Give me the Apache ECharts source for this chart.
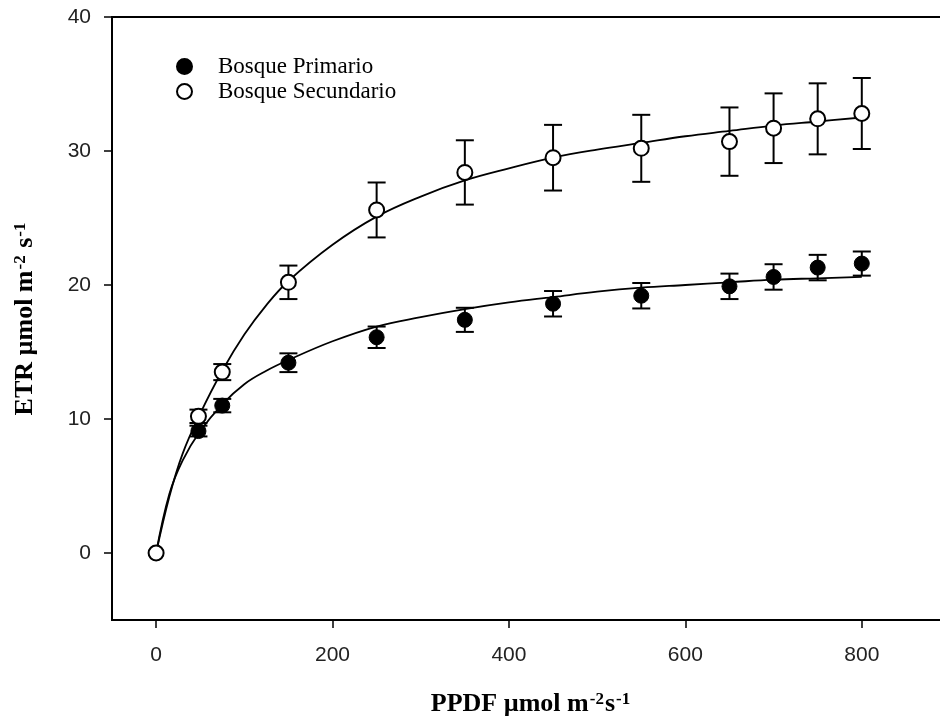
<!DOCTYPE html>
<html>
<head>
<meta charset="utf-8">
<script src="https://cdn.jsdelivr.net/npm/echarts@6/dist/echarts.min.js"></script>
<style>
html,body{margin:0;padding:0;background:#fff;}
#chart{width:940px;height:723px;}
</style>
</head>
<body>
<div id="chart"></div>
<script>
// Measured points: [PPFD, ETR, error]
var primarioX   = [0, 48, 75, 150, 250, 350, 450, 550, 650, 700, 750, 800];
var primarioY   = [0, 9.1, 11.0, 14.2, 16.1, 17.4, 18.6, 19.2, 19.9, 20.6, 21.3, 21.6];
var primarioErr = [0, 0.4, 0.5, 0.7, 0.8, 0.9, 0.95, 0.95, 0.95, 0.95, 0.95, 0.9];

var secundarioX   = [0, 48, 75, 150, 250, 350, 450, 550, 650, 700, 750, 800];
var secundarioY   = [0, 10.2, 13.5, 20.2, 25.6, 28.4, 29.5, 30.2, 30.7, 31.7, 32.4, 32.8];
var secundarioErr = [0, 0.5, 0.6, 1.25, 2.05, 2.4, 2.45, 2.5, 2.55, 2.6, 2.65, 2.65];

// Fitted curves
var curveX           = [0, 15, 30, 50, 75, 100, 125, 150, 200, 250, 300, 350, 400, 450, 500, 550, 600, 650, 700, 750, 800];
var curvePrimario    = [0, 4.4, 6.9, 9.1, 11.1, 12.6, 13.6, 14.4, 15.8, 16.9, 17.6, 18.2, 18.7, 19.1, 19.5, 19.8, 20.0, 20.2, 20.4, 20.5, 20.6];
var curveSecundario  = [0, 4.2, 7.4, 10.4, 13.6, 16.3, 18.5, 20.3, 23.0, 25.1, 26.6, 27.8, 28.7, 29.5, 30.1, 30.6, 31.1, 31.5, 31.9, 32.2, 32.5];

var xTicks = [0, 200, 400, 600, 800];
var yTicks = [0, 10, 20, 30, 40];

var serifFont = '"Liberation Serif", "Times New Roman", serif';
var sansFont = '"Liberation Sans", Arial, sans-serif';

function zip(xs, ys) { return xs.map(function (x, i) { return [x, ys[i]]; }); }
function zip3(xs, ys, es) { return xs.map(function (x, i) { return [x, ys[i] - es[i], ys[i] + es[i]]; }); }

function errorRender(params, api) {
  var x = api.value(0);
  var lo = api.coord([x, api.value(1)]);
  var hi = api.coord([x, api.value(2)]);
  var cap = 9;
  var style = { stroke: '#000', lineWidth: 2, fill: null };
  if (Math.abs(hi[1] - lo[1]) < 0.5) return null;
  return {
    type: 'group',
    children: [
      { type: 'line', shape: { x1: lo[0], y1: lo[1], x2: hi[0], y2: hi[1] }, style: style },
      { type: 'line', shape: { x1: lo[0] - cap, y1: lo[1], x2: lo[0] + cap, y2: lo[1] }, style: style },
      { type: 'line', shape: { x1: hi[0] - cap, y1: hi[1], x2: hi[0] + cap, y2: hi[1] }, style: style }
    ]
  };
}

var titleRich = {
  b: { fontFamily: serifFont, fontWeight: 'bold', fontSize: 26, color: '#000', verticalAlign: 'bottom' },
  s: { fontFamily: serifFont, fontWeight: 'bold', fontSize: 17, color: '#000', verticalAlign: 'top', padding: [0, 1, 3, 1] }
};

var chart = echarts.init(document.getElementById('chart'), null, { renderer: 'canvas' });
chart.setOption({
  backgroundColor: '#fff',
  animation: false,
  grid: {
    left: 112, top: 17, right: -10, bottom: 103,
    show: true, borderColor: '#000', borderWidth: 2,
    containLabel: false, outerBoundsMode: 'none'
  },
  legend: {
    orient: 'vertical',
    left: 171, top: 50,
    itemWidth: 15, itemHeight: 15,
    itemGap: 2,
    data: ['Bosque Primario', 'Bosque Secundario'],
    textStyle: { fontFamily: serifFont, fontSize: 23, color: '#000', padding: [0, 0, 0, 21] }
  },
  xAxis: {
    type: 'value', min: -50, max: 900,
    name: '{b|PPDF µmol m}{s|-2}{b|s}{s|-1}',
    nameLocation: 'middle', nameGap: 71,
    nameTextStyle: { rich: titleRich },
    splitLine: { show: false },
    axisLine: { onZero: false, lineStyle: { color: '#000', width: 2 } },
    axisTick: { show: true, inside: false, length: 8, lineStyle: { color: '#000', width: 1.5 }, customValues: xTicks },
    axisLabel: { fontFamily: sansFont, fontSize: 21, color: '#222', margin: 25, customValues: xTicks }
  },
  yAxis: {
    type: 'value', min: -5, max: 40,
    name: '{b|ETR µmol m}{s|-2}{b| s}{s|-1}',
    nameLocation: 'middle', nameGap: 74, nameRotate: 90,
    nameTextStyle: { rich: titleRich },
    splitLine: { show: false },
    axisLine: { show: true, onZero: false, lineStyle: { color: '#000', width: 2 } },
    axisTick: { show: true, inside: false, length: 8, lineStyle: { color: '#000', width: 1.5 }, customValues: yTicks },
    axisLabel: { fontFamily: sansFont, fontSize: 21, color: '#222', margin: 21, customValues: yTicks }
  },
  series: [
    {
      type: 'custom', name: 'errP', renderItem: errorRender, z: 2,
      data: zip3(primarioX, primarioY, primarioErr), encode: { x: 0, y: [1, 2] }, silent: true
    },
    {
      type: 'custom', name: 'errS', renderItem: errorRender, z: 2,
      data: zip3(secundarioX, secundarioY, secundarioErr), encode: { x: 0, y: [1, 2] }, silent: true
    },
    {
      type: 'line', name: 'fitP', smooth: 0.4, showSymbol: false, z: 3,
      lineStyle: { color: '#000', width: 1.8 },
      data: zip(curveX, curvePrimario)
    },
    {
      type: 'line', name: 'fitS', smooth: 0.4, showSymbol: false, z: 3,
      lineStyle: { color: '#000', width: 1.8 },
      data: zip(curveX, curveSecundario)
    },
    {
      type: 'scatter', name: 'Bosque Primario', symbol: 'circle', symbolSize: 15, z: 4,
      itemStyle: { color: '#000', borderColor: '#000', borderWidth: 1, opacity: 1 },
      data: zip(primarioX, primarioY)
    },
    {
      type: 'scatter', name: 'Bosque Secundario', symbol: 'circle', symbolSize: 15, z: 5,
      itemStyle: { color: '#fff', borderColor: '#000', borderWidth: 2, opacity: 1 },
      data: zip(secundarioX, secundarioY)
    }
  ]
});
</script>
</body>
</html>
